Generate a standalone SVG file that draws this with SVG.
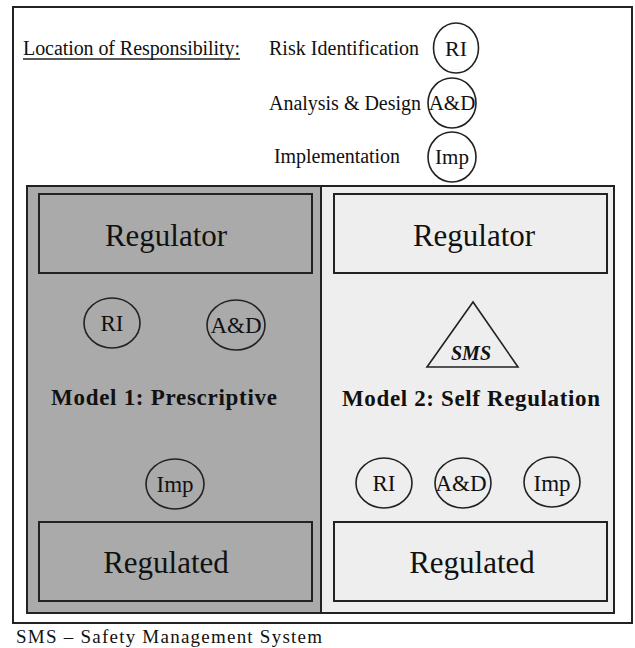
<svg xmlns="http://www.w3.org/2000/svg" width="635" height="648" viewBox="0 0 635 648" font-family="'Liberation Serif', 'Times New Roman', 'DejaVu Serif', serif">
<style>
text{fill:#111}
.box{stroke:#222;stroke-width:2}
.el{fill:none;stroke:#222;stroke-width:1.6}
.big{font-size:31px;text-anchor:middle}
.c{font-size:23px;text-anchor:middle}
.leg{font-size:20px}
.mb{font-size:23px;font-weight:bold;text-anchor:middle}
</style>
<rect x="0" y="0" width="635" height="648" fill="#fff"/>
<g id="frame"><rect x="13" y="7" width="619" height="616" fill="#fff" stroke="#222" stroke-width="2"/></g>
<g id="legend">
<text class="leg" x="23" y="55" textLength="217">Location of Responsibility:</text>
<line x1="23" y1="59" x2="240" y2="59" stroke="#222" stroke-width="1.3"/>
<text class="leg" x="269" y="55" textLength="150">Risk Identification</text>
<ellipse class="el" cx="456" cy="48" rx="22.5" ry="25"/>
<text class="c" x="456" y="56" style="font-size:22px">RI</text>
<text class="leg" x="269" y="110" textLength="152">Analysis &amp; Design</text>
<ellipse class="el" cx="452" cy="103" rx="24" ry="25"/>
<text class="c" x="452" y="110" style="font-size:21px">A&amp;D</text>
<text class="leg" x="274" y="163" textLength="126">Implementation</text>
<ellipse class="el" cx="452" cy="157" rx="24" ry="25"/>
<text class="c" x="452" y="164" style="font-size:21px">Imp</text>
</g>
<g id="model1">
<rect x="27" y="186" width="294" height="427" fill="#aaaaaa" class="box"/>
<text class="mb" x="164" y="405" textLength="226">Model 1: Prescriptive</text>
</g>
<g id="model2">
<rect x="321" y="186" width="293" height="427" fill="#eeeeee" class="box"/>
<text class="mb" x="471" y="406" textLength="258">Model 2: Self Regulation</text>
</g>
<g id="regulator1"><rect x="39" y="194" width="273" height="79" fill="#aaaaaa" class="box"/><text class="big" x="166" y="246">Regulator</text></g>
<g id="regulated1"><rect x="39" y="522" width="273" height="79" fill="#aaaaaa" class="box"/><text class="big" x="166" y="573">Regulated</text></g>
<g id="regulator2"><rect x="334" y="194" width="273" height="79" fill="#eeeeee" class="box"/><text class="big" x="474" y="246">Regulator</text></g>
<g id="regulated2"><rect x="334" y="522" width="273" height="79" fill="#eeeeee" class="box"/><text class="big" x="472" y="573">Regulated</text></g>
<g id="m1-ri"><ellipse class="el" cx="112" cy="323" rx="28" ry="25"/><text class="c" x="112" y="331">RI</text></g>
<g id="m1-ad"><ellipse class="el" cx="236" cy="325" rx="29" ry="25"/><text class="c" x="236" y="333">A&amp;D</text></g>
<g id="m1-imp"><ellipse class="el" cx="175" cy="484" rx="29" ry="25"/><text class="c" x="175" y="492">Imp</text></g>
<g id="sms"><polygon points="473,302 427,367 518,367" fill="none" stroke="#222" stroke-width="1.6"/><text x="471" y="360" style="font-size:20px;font-weight:bold;font-style:italic;text-anchor:middle">SMS</text></g>
<g id="m2-ri"><ellipse class="el" cx="384" cy="483" rx="28" ry="25"/><text class="c" x="384" y="491">RI</text></g>
<g id="m2-ad"><ellipse class="el" cx="463" cy="483" rx="28" ry="25"/><text class="c" x="461" y="491">A&amp;D</text></g>
<g id="m2-imp"><ellipse class="el" cx="552" cy="482" rx="28" ry="25"/><text class="c" x="552" y="491">Imp</text></g>
<g id="connectors"></g>
<text x="16" y="643" style="font-size:19px" textLength="306">SMS – Safety Management System</text>
</svg>
